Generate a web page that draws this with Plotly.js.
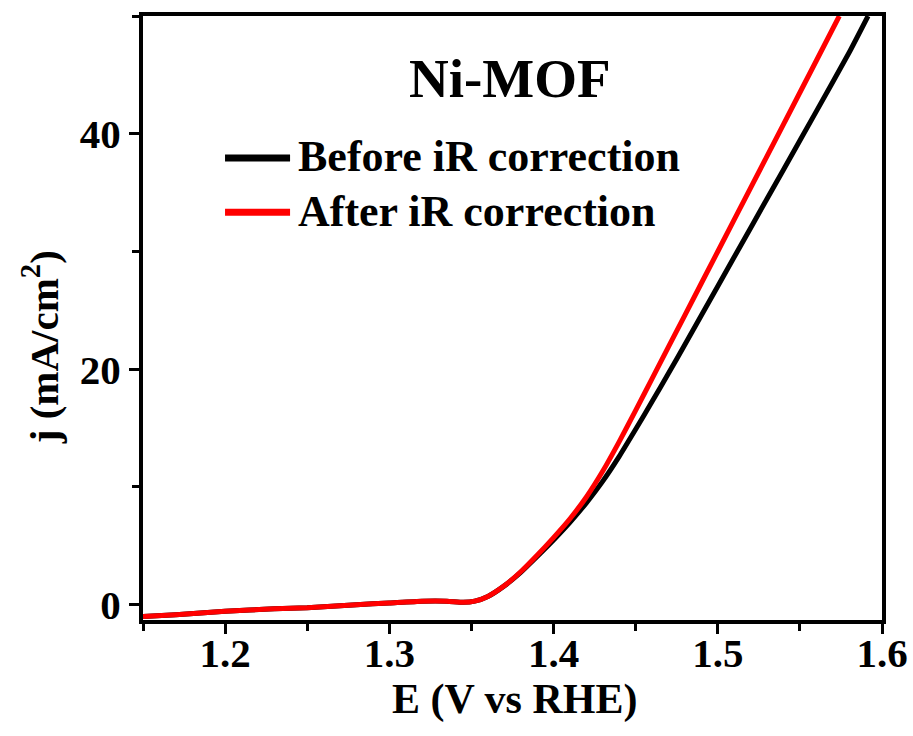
<!DOCTYPE html>
<html>
<head>
<meta charset="utf-8">
<script src="https://cdn.plot.ly/plotly-3.0.1.min.js"></script>
<style>html,body{margin:0;padding:0;background:#fff;}#chart{width:913px;height:736px;}</style>
</head>
<body>
<div id="chart"></div>
<script>
// Potential (V vs RHE)
const potential = [1.15, 1.17, 1.20, 1.23, 1.25, 1.28, 1.30, 1.32, 1.335, 1.345, 1.352, 1.36, 1.37, 1.38, 1.39, 1.40, 1.41, 1.42, 1.43, 1.44, 1.45, 1.46, 1.47, 1.48, 1.50, 1.52, 1.54, 1.56, 1.58, 1.5915];
// Before iR correction (mA/cm2)
const beforeIR = [-1.0, -0.85, -0.55, -0.35, -0.25, 0.0, 0.15, 0.3, 0.3, 0.2, 0.3, 0.7, 1.6, 2.75, 4.1, 5.5, 7.0, 8.65, 10.5, 12.6, 14.9, 17.25, 19.65, 22.1, 27.05, 32.0, 36.95, 41.9, 46.9, 50.0];
// Potential for the after-correction curve (V vs RHE)
const potentialAfter = [1.15, 1.17, 1.20, 1.23, 1.25, 1.28, 1.30, 1.32, 1.335, 1.345, 1.352, 1.36, 1.37, 1.38, 1.39, 1.40, 1.41, 1.42, 1.43, 1.44, 1.45, 1.46, 1.48, 1.50, 1.52, 1.54, 1.56, 1.574];
// After iR correction (mA/cm2)
const afterIR = [-1.0, -0.85, -0.55, -0.35, -0.25, 0.0, 0.15, 0.3, 0.3, 0.2, 0.3, 0.7, 1.6, 2.8, 4.2, 5.7, 7.3, 9.15, 11.35, 13.85, 16.5, 19.2, 24.6, 30.0, 35.4, 40.8, 46.2, 50.0];

const seriesNames = ["Before iR correction", "After iR correction"];
const seriesColors = ["#000000", "#ff0000"];
const titleText = "Ni-MOF";
const xTitle = "E (V vs RHE)";
const yTitle = "j (mA/cm<sup>2</sup>)";
const xTickVals = [1.2, 1.3, 1.4, 1.5, 1.6];
const yTickVals = [0, 20, 40];

const serif = "'Liberation Serif', 'Times New Roman', Times, serif";

const traces = [
  {x: potential, y: beforeIR, name: seriesNames[0], mode: "lines",
   line: {color: seriesColors[0], width: 5, shape: "spline", smoothing: 0.5}},
  {x: potentialAfter, y: afterIR, name: seriesNames[1], mode: "lines",
   line: {color: seriesColors[1], width: 5, shape: "spline", smoothing: 0.5}}
];

const axisCommon = {
  showline: true, linewidth: 4, linecolor: "#000", mirror: true,
  ticks: "outside", ticklen: 10, tickwidth: 3, tickcolor: "#000",
  showgrid: false, zeroline: false,
  tickfont: {family: serif, size: 41, color: "#000", weight: "bold"}
};

// legend drawn in paper coordinates (line sample + label)
const legendX0 = 0.111, legendX1 = 0.199, legendTextX = 0.207;
const legendY = [0.765, 0.675];
const legendShapes = seriesNames.map((n, i) => ({
  type: "line", xref: "paper", yref: "paper",
  x0: legendX0, x1: legendX1, y0: legendY[i], y1: legendY[i],
  line: {color: seriesColors[i], width: 7}
}));
const legendTexts = seriesNames.map((n, i) => ({
  text: n, xref: "paper", yref: "paper", x: legendTextX, y: legendY[i] + 0.002,
  xanchor: "left", yanchor: "middle", showarrow: false,
  font: {family: serif, size: 44, color: "#000", weight: "bold"}
}));

const layout = {
  width: 913, height: 736,
  margin: {l: 143, r: 31, t: 16, b: 116},
  paper_bgcolor: "#fff", plot_bgcolor: "#fff",
  showlegend: false,
  xaxis: Object.assign({}, axisCommon, {
    range: [1.15, 1.6], tickvals: xTickVals, ticktext: xTickVals.map(v => v.toFixed(1)),
    ticklabelstandoff: -16,
    minor: {dtick: 0.05, tick0: 1.15, ticks: "outside", ticklen: 7, tickwidth: 3, tickcolor: "#000"}
  }),
  yaxis: Object.assign({}, axisCommon, {
    range: [-1.3, 50], tickvals: yTickVals,
    minor: {dtick: 10, tick0: 0, ticks: "outside", ticklen: 7, tickwidth: 3, tickcolor: "#000"}
  }),
  shapes: legendShapes,
  annotations: [
    {text: titleText, xref: "paper", yref: "paper", x: 0.497, y: 0.897,
     xanchor: "center", yanchor: "middle", showarrow: false,
     font: {family: serif, size: 55, color: "#000", weight: "bold"}},
    {text: xTitle, xref: "paper", yref: "paper", x: 0.503, y: -0.132,
     xanchor: "center", yanchor: "middle", showarrow: false,
     font: {family: serif, size: 42, color: "#000", weight: "bold"}},
    {text: yTitle, xref: "paper", yref: "paper", x: -0.139, y: 0.452, textangle: -90,
     xanchor: "center", yanchor: "middle", showarrow: false,
     font: {family: serif, size: 41, color: "#000", weight: "bold"}}
  ].concat(legendTexts)
};

Plotly.newPlot("chart", traces, layout, {displayModeBar: false, staticPlot: true});
</script>
</body>
</html>
